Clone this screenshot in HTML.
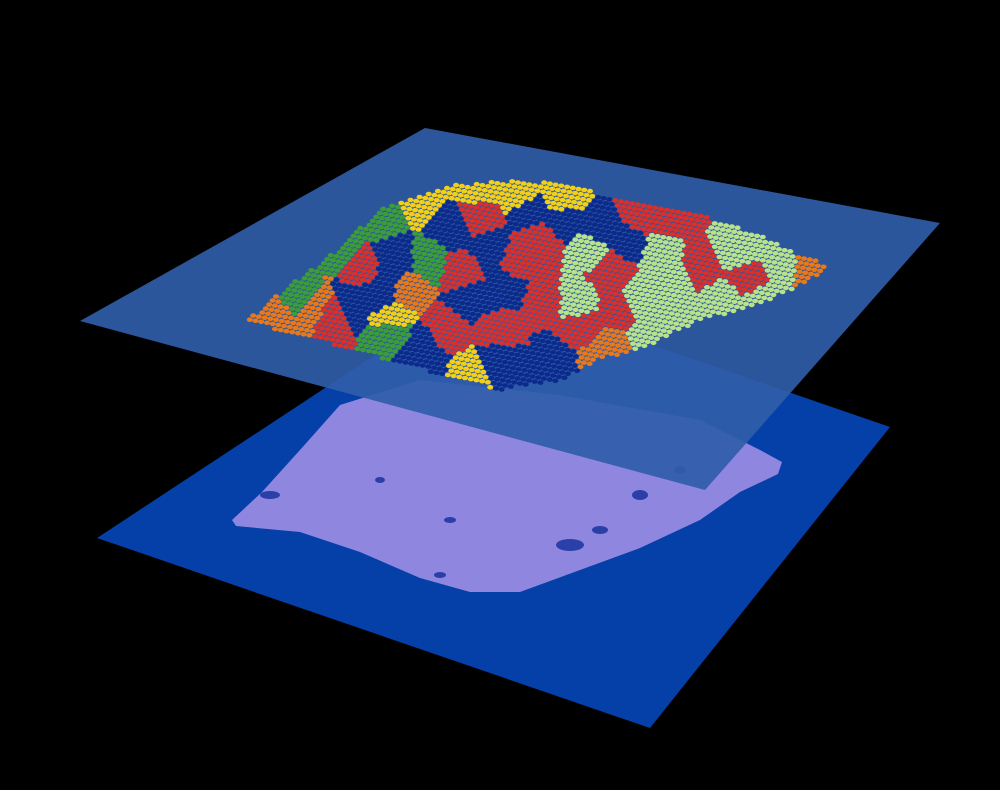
<!DOCTYPE html>
<html><head><meta charset="utf-8"><style>
html,body{margin:0;padding:0;background:#000;width:1000px;height:790px;overflow:hidden;font-family:"Liberation Sans",sans-serif}
</style></head><body>
<svg id="chart" width="1000" height="790" viewBox="0 0 1000 790">
<rect width="1000" height="790" fill="#000"/>
<polygon points="480,286 890,427 650,728 97,538" fill="#0440a8"/>
<polygon points="232,520 262,492 300,450 340,405 420,380 560,395 700,420 760,450 782,462 778,474 740,492 700,520 640,548 580,570 520,592 470,592 420,578 360,552 300,532 236,526" fill="#8f86e0"/>
<g id="holes" fill="#2a3fa8">
<ellipse cx="270" cy="495" rx="10" ry="4"/><ellipse cx="570" cy="545" rx="14" ry="6"/><ellipse cx="640" cy="495" rx="8" ry="5"/><ellipse cx="450" cy="520" rx="6" ry="3"/><ellipse cx="380" cy="480" rx="5" ry="3"/><ellipse cx="680" cy="470" rx="6" ry="4"/><ellipse cx="600" cy="530" rx="8" ry="4"/><ellipse cx="440" cy="575" rx="6" ry="3"/>
</g>
<polygon points="425,128 940,223 705,490 80,321" fill="#305da9" fill-opacity="0.92"/>
<g id="spots"></g>
</svg>
<script>
const clusterNames=["navy","red","lightgreen","green","orange","yellow"];
const clusterColors=["#0b2a8c","#d8302c","#b8e28c","#3c9c3a","#e8781c","#f2d01a"];
const seedX=[270,300,340,380,420,480,520,380,450,470,560,420,600,520,610,640,500,580,680,740,780,640,700,600,330,545,760,395,500,660,815,360,410,430,460,490,540,575,620,650,700,720,750,560,530,480,350,320,395,445,505,590,630,670,610,555,470,425,395];
const seedY=[320,290,250,215,200,190,195,290,230,300,220,345,230,260,270,220,330,330,280,250,260,300,320,355,310,300,300,260,360,250,265,270,290,260,270,250,240,300,310,330,270,300,280,200,210,215,300,305,320,330,290,250,240,220,350,360,375,360,330];
const seedCluster=[4,3,3,3,5,5,5,0,0,0,0,0,0,1,1,1,1,1,2,2,2,2,2,4,1,1,2,0,0,2,4,1,4,3,1,0,1,2,1,2,1,2,1,5,0,1,0,4,5,1,0,2,0,1,4,0,5,0,3];
const boundary=[[245,322],[270,300],[330,255],[380,210],[450,185],[520,180],[570,185],[640,205],[700,215],[760,235],[800,255],[830,265],[810,280],[760,305],[700,320],[650,345],[600,360],[560,380],[500,390],[430,372],[370,355],[300,335]];
function inside(x,y){let c=false;for(let i=0,j=boundary.length-1;i<boundary.length;j=i++){const [xi,yi]=boundary[i],[xj,yj]=boundary[j];if(((yi>y)!=(yj>y))&&(x<(xj-xi)*(y-yi)/(yj-yi)+xi))c=!c;}return c;}
const g=document.getElementById('spots');
const O=[425,128],U=[515,95],V=[-345,193];
for(let a=0;a<90;a++){for(let b=0;b<55;b++){
 const u=(a+(b%2)*0.5)/90,v=b/55;
 const x=O[0]+U[0]*u+V[0]*v,y=O[1]+U[1]*u+V[1]*v;
 if(!inside(x,y))continue;
 let best=0,bd=1e9;
 for(let k=0;k<seedX.length;k++){const d=(x-seedX[k])**2+(y-seedY[k])**2;if(d<bd){bd=d;best=k;}}
 const e=document.createElementNS('http://www.w3.org/2000/svg','ellipse');
 e.setAttribute('cx',x.toFixed(1));e.setAttribute('cy',y.toFixed(1));
 e.setAttribute('rx','3');e.setAttribute('ry','2.3');
 e.setAttribute('fill',clusterColors[seedCluster[best]]);
 
 
 g.appendChild(e);
}}
</script>
</body></html>
